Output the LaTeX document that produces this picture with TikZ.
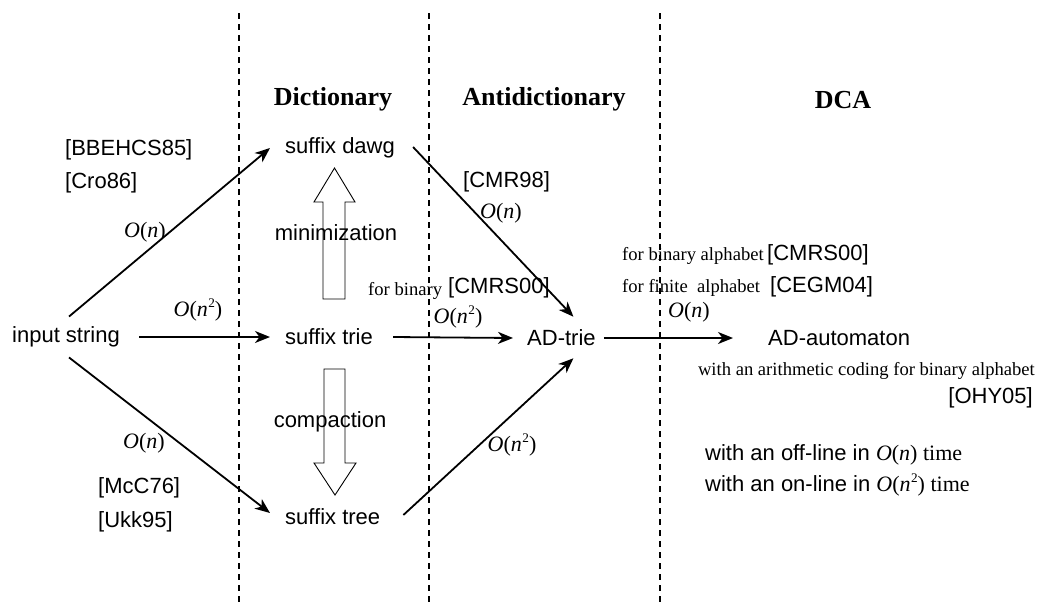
\documentclass[tikz,border=0pt]{standalone}
\usepackage{fontspec}
\setmainfont{Liberation Serif}
\newfontfamily\arial{Liberation Sans}
\usetikzlibrary{arrows.meta,calc}

\newcommand{\On}{\textit{O}(\textit{n})}
\newcommand{\Onn}{\textit{O}(\textit{n}\kern0.5pt\raisebox{0.42em}{\scalebox{0.6}{2}})}

\begin{document}
\begin{tikzpicture}[x=1pt,y=-1pt,
  lbl/.style={inner sep=0pt, font=\arial\fontsize{22}{26}\selectfont},
  head/.style={inner sep=0pt, font=\bfseries\fontsize{26}{30}\selectfont},
  note/.style={inner sep=0pt, font=\fontsize{18.6}{22}\selectfont},
  cx/.style={inner sep=0pt, font=\fontsize{22}{26}\selectfont},
  conn/.style={line width=1.8pt, -{Stealth[length=15pt,width=12pt,inset=4.5pt]}},
  sep/.style={line width=1.8pt, dash pattern=on 6pt off 5pt},
  hollow/.style={draw, line width=0.9pt, fill=white, line join=miter}]

\useasboundingbox (0,0) rectangle (1040,608);

% column separators
\draw[sep] (239,13) -- (239,606);
\draw[sep] (429,13) -- (429,606);
\draw[sep] (660,13) -- (660,606);

% column headings
\node[head] (hdict) at (333,99) {Dictionary};
\node[head] (hanti) at (544,99) {Antidictionary};
\node[head] (hdca)  at (843,100) {DCA};

% structures
\node[lbl, anchor=west] (input)  at (12,337)  {input string};
\node[lbl, anchor=west] (dawg)   at (285,148) {suffix dawg};
\node[lbl, anchor=west] (trie)   at (285,337) {suffix trie};
\node[lbl, anchor=west] (tree)   at (285,517) {suffix tree};
\node[lbl, anchor=west] (adtrie) at (527,338) {AD-trie};
\node[lbl, anchor=west] (adauto) at (768,338) {AD-automaton};

% constructions
\draw[conn] ($(input.north)+(3,-10)$) -- ($(dawg.west)+(-15,0)$);
\draw[conn] ($(input.east)+(19,0)$) -- ($(trie.west)+(-15,0)$);
\draw[conn] ($(input.south)+(3,10)$) -- ($(tree.west)+(-15,-4)$);
\draw[conn] ($(dawg.east)+(18,-1)$) -- ($(adtrie.north)+(12,-13)$);
\draw[conn] ($(trie.east)+(20,0)$) -- ($(adtrie.west)+(-14,0)$);
\draw[conn] ($(tree.east)+(23,-2)$) -- ($(adtrie.south)+(12,12)$);
\draw[conn] ($(adtrie.east)+(8,0)$) -- ($(adauto.west)+(-35,0)$);

% minimization / compaction block arrows
\draw[hollow] (323,299) -- (345,299) -- (345,202) -- (355,202) -- (334.5,168)
  -- (314,202) -- (323,202) -- cycle;
\draw[hollow] (324,369) -- (345,369) -- (345,463) -- (356,463) -- (335,495)
  -- (314,463) -- (324,463) -- cycle;
\node[lbl] (mini) at (336,233) {minimization};
\node[lbl] (comp) at (330,422) {compaction};

% complexities
\node[cx] (c1) at (145,232) {\On};
\node[cx] (c2) at (198,310) {\Onn};
\node[cx] (c3) at (144,443) {\On};
\node[cx] (c4) at (501,213) {\On};
\node[cx] (c5) at (458,317) {\Onn};
\node[cx] (c6) at (512,445) {\Onn};
\node[cx] (c7) at (689,312) {\On};

% references
\node[lbl, anchor=west] (r1) at (65,150)  {[BBEHCS85]};
\node[lbl, anchor=west] (r2) at (65,183)  {[Cro86]};
\node[lbl, anchor=west] (r3) at (98,488)  {[McC76]};
\node[lbl, anchor=west] (r4) at (98,522)  {[Ukk95]};
\node[lbl, anchor=west] (r5) at (463,182) {[CMR98]};
\node[note, anchor=west] (n1) at (368,291) {for binary};
\node[lbl, anchor=west] (r6) at (448,288) {[CMRS00]};
\node[note, anchor=west] (n2) at (622,256) {for binary alphabet};
\node[lbl, anchor=west] (r7) at (767,255) {[CMRS00]};
\node[note, anchor=west] (n3) at (622,288) {for finite\ \ alphabet};
\node[lbl, anchor=west] (r8) at (770,287) {[CEGM04]};
\node[note, anchor=east] (n4) at (1035,371) {with an arithmetic coding for binary alphabet};
\node[lbl, anchor=east] (r9) at (1033,398) {[OHY05]};
\node[lbl, anchor=west] (n5) at (705,455) {with an off-line in {\rmfamily\On{} time}};
\node[lbl, anchor=west] (n6) at (705,485) {with an on-line in {\rmfamily\Onn{} time}};
\end{tikzpicture}
\end{document}
